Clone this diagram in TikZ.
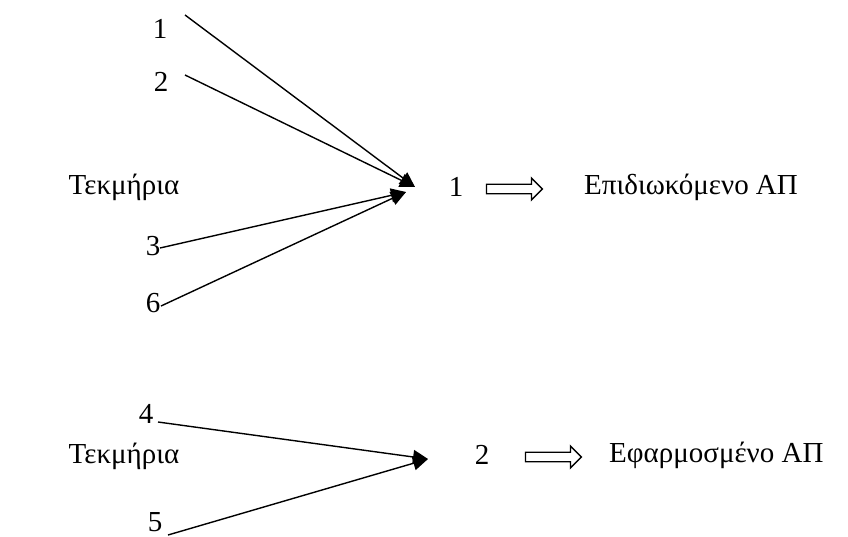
\documentclass[tikz,border=0pt]{standalone}
\usepackage{fontspec}
\setmainfont{Liberation Serif}
\usetikzlibrary{arrows.meta,shapes.arrows}
\begin{document}
\begin{tikzpicture}[x=1pt,y=-1pt,
  lbl/.style={inner sep=0pt,font=\fontsize{29}{33}\selectfont},
  conn/.style={line width=1.4pt,-{Triangle[length=15pt,width=14pt]}},
  bigarrow/.style={single arrow,draw,line width=1.3pt,inner sep=4pt,
    single arrow head extend=6pt,minimum height=56pt,minimum width=22pt}]
\useasboundingbox (0,0) rectangle (848,536);
% upper group
\node[lbl] (n1) at (160,29) {1};
\node[lbl] (n2) at (161,82) {2};
\node[lbl] (T1) at (124,187) {Τεκμήρια};
\node[lbl] (n3) at (153,246) {3};
\node[lbl] (n6) at (153,303) {6};
\node[lbl] (c1) at (456,187) {1};
\node[bigarrow] (a1) at (512,189) {};
\node[lbl,anchor=west] (E1) at (584,187) {Επιδιωκόμενο ΑΠ};
\coordinate (s1) at (185,15);
\coordinate (s2) at (185,75);
\coordinate (s3) at (160,248);
\coordinate (s6) at (161,306);
\coordinate (t1) at (415,187);
\coordinate (t2) at (406,192);
\draw[conn] (s1) -- (t1);
\draw[conn] (s2) -- (t1);
\draw[conn] (s3) -- (t2);
\draw[conn] (s6) -- (t2);
% lower group
\node[lbl] (n4) at (146,414) {4};
\node[lbl] (T2) at (124,456) {Τεκμήρια};
\node[lbl] (n5) at (155,522) {5};
\node[lbl] (c2) at (482,455) {2};
\node[bigarrow] (a2) at (551,457) {};
\node[lbl,anchor=west] (E2) at (609,455) {Εφαρμοσμένο ΑΠ};
\coordinate (s4) at (158,422);
\coordinate (s5) at (168,535);
\coordinate (t3) at (428,459);
\draw[conn] (s4) -- (t3);
\draw[conn] (s5) -- (t3);
\end{tikzpicture}
\end{document}
